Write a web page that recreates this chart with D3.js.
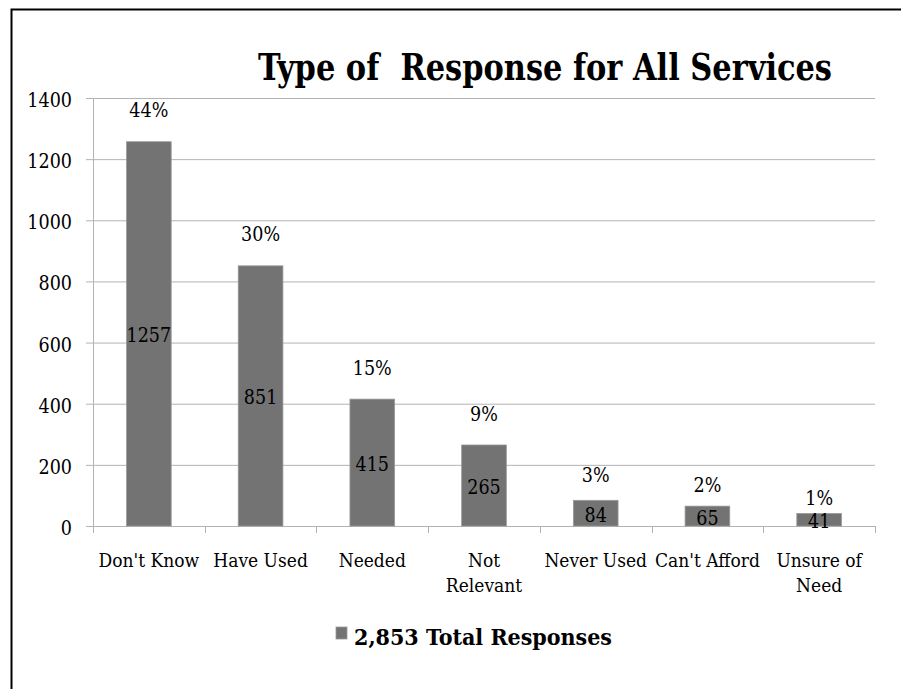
<!DOCTYPE html>
<html><head><meta charset="utf-8">
<script src="https://cdn.jsdelivr.net/npm/d3@7"></script>
<style>
html,body{margin:0;padding:0;background:#fff;}
svg{display:block;}
text{font-family:'DejaVu Serif Condensed','DejaVu Serif',serif;font-stretch:condensed;fill:#000;}
</style></head>
<body>
<svg id="chart" width="901" height="689"></svg>
<script>
const categories = [["Don't Know"],["Have Used"],["Needed"],["Not","Relevant"],["Never Used"],["Can't Afford"],["Unsure of","Need"]];
const values = [1257, 851, 415, 265, 84, 65, 41];
const percents = ["44%","30%","15%","9%","3%","2%","1%"];
const yTicks = [0,200,400,600,800,1000,1200,1400];
const titleText = "Type of\u00a0 Response for All Services";
const legendText = "2,853 Total Responses";

(function(){
const svg = d3.select("#chart");
const W = 901, H = 689;
const pL = 93, pR = 875, pT = 98, pB = 526;
const fs = 19;

// frame
svg.append("path").attr("d", `M11.5,${H} V9.5 H${W}`).attr("fill","none").attr("stroke","#000").attr("stroke-width",2);

const x = d3.scaleBand().domain(d3.range(categories.length)).range([pL,pR]).paddingInner(0).paddingOuter(0);
const y = d3.scaleLinear().domain([0,1400]).range([pB,pT]);

// gridlines
svg.append("g").selectAll("line").data(yTicks).join("line")
  .attr("x1", pL-7).attr("x2", pR)
  .attr("y1", d=>y(d)+0.5).attr("y2", d=>y(d)+0.5)
  .attr("stroke","#b3b3b3").attr("stroke-width",1);

// y axis line
svg.append("line").attr("x1",pL+0.5).attr("x2",pL+0.5).attr("y1",pT).attr("y2",pB+1)
  .attr("stroke","#b3b3b3");

// y tick labels
svg.append("g").selectAll("text").data(yTicks).join("text")
  .attr("x", 72).attr("y", d=>y(d)+9)
  .attr("text-anchor","end").attr("font-size",fs+0.5)
  .text(d=>d);

// x tick marks
const xt = d3.range(categories.length+1).map(i => i===categories.length ? pR : x(i));
svg.append("g").selectAll("line").data(xt).join("line")
  .attr("x1", d=>Math.round(d)+0.5).attr("x2", d=>Math.round(d)+0.5)
  .attr("y1", pB).attr("y2", pB+7).attr("stroke","#b3b3b3");

// bars
const bw = x.bandwidth()*0.4;
svg.append("g").selectAll("rect").data(values).join("rect")
  .attr("x", (d,i)=>x(i)+x.bandwidth()/2-bw/2)
  .attr("y", d=>y(d))
  .attr("width", bw).attr("height", d=>pB-y(d))
  .attr("fill","#737373").attr("stroke","#9a9a9a").attr("stroke-width",0.8);

// value labels
svg.append("g").selectAll("text").data(values).join("text")
  .attr("x",(d,i)=>x(i)+x.bandwidth()/2)
  .attr("y", d=>(y(d)+pB)/2+8.5)
  .attr("text-anchor","middle").attr("font-size",fs+0.5)
  .text(d=>d);

// percent labels (placed above bar, closer for short bars)
svg.append("g").selectAll("text").data(values).join("text")
  .attr("x",(d,i)=>x(i)+x.bandwidth()/2)
  .attr("y", d=>y(d + Math.min(80, d*0.7)))
  .attr("text-anchor","middle").attr("font-size",fs+0.5)
  .text((d,i)=>percents[i]);

// category labels
const cl = svg.append("g").selectAll("text").data(categories).join("text")
  .attr("text-anchor","middle").attr("font-size",fs);
cl.each(function(lines,i){
  d3.select(this).selectAll("tspan").data(lines).join("tspan")
    .attr("x", x(i)+x.bandwidth()/2)
    .attr("y",(l,j)=>567+j*25)
    .text(l=>l);
});

// title
svg.append("text").attr("x",545).attr("y",80).attr("text-anchor","middle")
  .attr("font-weight","bold").attr("font-size",37)
  .attr("textLength",574).attr("lengthAdjust","spacingAndGlyphs")
  .text(titleText);

// legend
svg.append("rect").attr("x",336).attr("y",627).attr("width",11).attr("height",12).attr("fill","#737373").attr("stroke","#9a9a9a").attr("stroke-width",0.8);
svg.append("text").attr("x",354).attr("y",645).attr("font-weight","bold").attr("font-size",23)
  .attr("textLength",258).attr("lengthAdjust","spacingAndGlyphs")
  .text(legendText);
})();
</script>
</body></html>
